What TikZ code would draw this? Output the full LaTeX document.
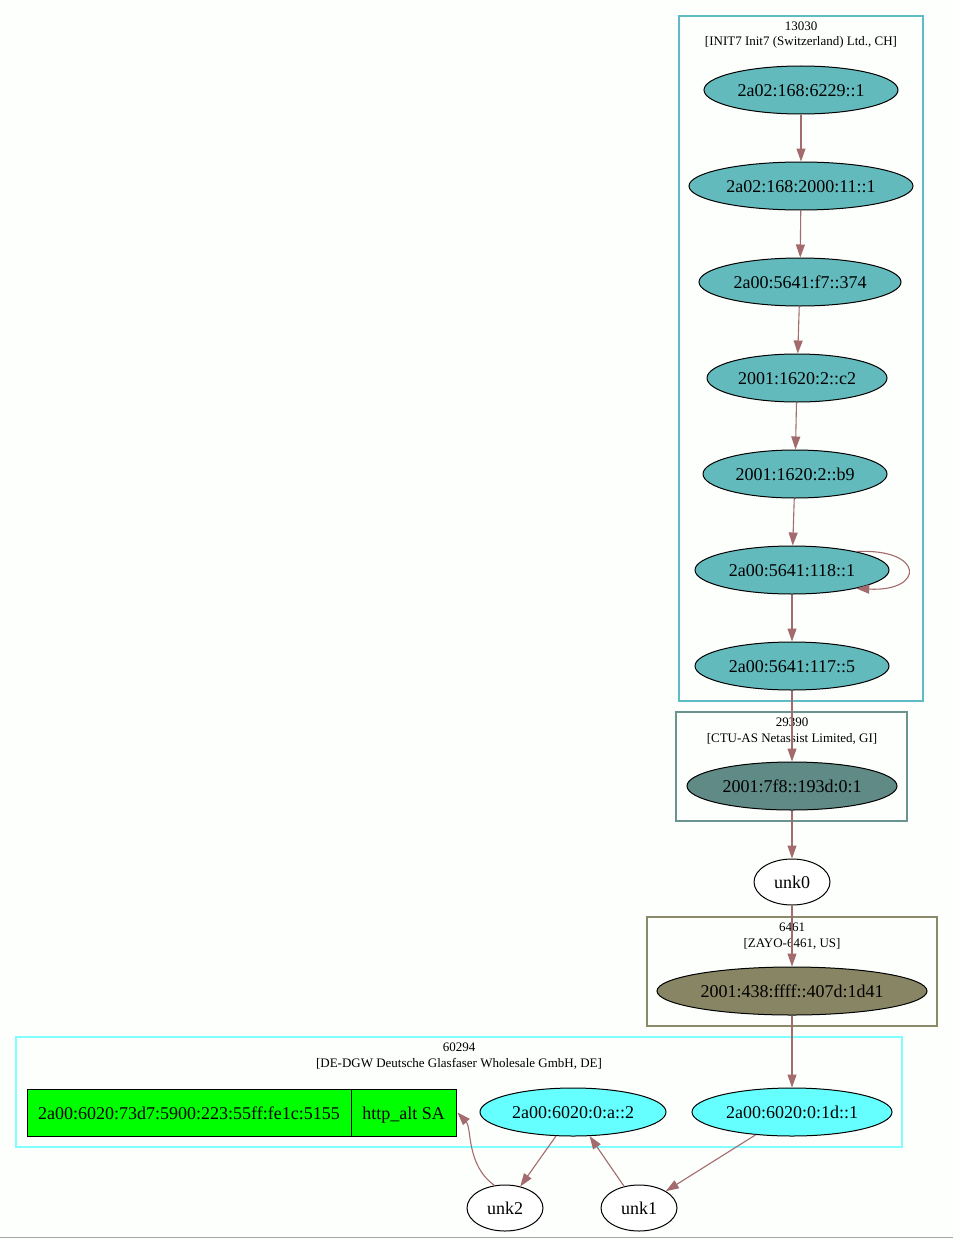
\documentclass[tikz,border=0pt]{standalone}
\usepackage{fontspec}
\setmainfont{Liberation Serif}
\usetikzlibrary{shapes.geometric,arrows.meta}
\definecolor{bgc}{HTML}{FCFFFB}
\definecolor{tealf}{HTML}{63BABC}
\definecolor{tealb}{HTML}{5FBCC4}
\definecolor{ctuf}{HTML}{5F8A85}
\definecolor{ctub}{HTML}{6A9490}
\definecolor{zayf}{HTML}{878563}
\definecolor{zayb}{HTML}{8A8A6A}
\definecolor{cyanf}{HTML}{66FFFF}
\definecolor{cyanb}{HTML}{80FFFF}
\definecolor{edgec}{HTML}{A36B6D}
\definecolor{recg}{HTML}{00FF00}
\tikzset{
  ell/.style={ellipse, draw=black, line width=1pt, inner sep=0pt, minimum height=48pt,
    font=\fontsize{18}{21}\selectfont, text height=14pt, text depth=1pt},
  rec/.style={rectangle, draw=black, line width=1pt, fill=recg, inner sep=0pt, minimum height=47pt,
    font=\fontsize{18}{21}\selectfont, text height=14pt, text depth=1pt},
  clus/.style={line width=1.1pt},
  clabel/.style={align=center, inner sep=0pt, font=\fontsize{13}{15.5}\selectfont},
  edge/.style={draw=edgec, line width=1.1pt, -{Triangle[length=13pt,width=9pt]}}
}
\begin{document}
\begin{tikzpicture}[x=1pt,y=-1pt]
\useasboundingbox (0,0) rectangle (953,1239);
\fill[bgc] (0,0) rectangle (953,1239);
\draw[gray!70, line width=1.5pt] (0,1237.5) -- (953,1237.5);
% clusters
\draw[clus, tealb] (679,16) rectangle (923,701);
\node[clabel] (c1) at (801,35) {13030\\{}[INIT7 Init7 (Switzerland) Ltd., CH]};
\draw[clus, ctub] (676,712) rectangle (907,821);
\node[clabel] (c2) at (792,731) {29390\\{}[CTU-AS Netassist Limited, GI]};
\draw[clus, zayb] (647,917) rectangle (937,1026);
\node[clabel] (c3) at (792,936) {6461\\{}[ZAYO-6461, US]};
\draw[clus, cyanb] (16,1037) rectangle (902,1147);
\node[clabel] (c4) at (459,1056) {60294\\{}[DE-DGW Deutsche Glasfaser Wholesale GmbH, DE]};
% nodes
\node[ell, fill=tealf, minimum width=194pt] (n1) at (801,90) {2a02:168:6229::1};
\node[ell, fill=tealf, minimum width=224pt] (n2) at (801,186) {2a02:168:2000:11::1};
\node[ell, fill=tealf, minimum width=202pt] (n3) at (800,282) {2a00:5641:f7::374};
\node[ell, fill=tealf, minimum width=180pt] (n4) at (797,378) {2001:1620:2::c2};
\node[ell, fill=tealf, minimum width=184pt] (n5) at (795,474) {2001:1620:2::b9};
\node[ell, fill=tealf, minimum width=194pt] (n6) at (792,570) {2a00:5641:118::1};
\node[ell, fill=tealf, minimum width=194pt] (n7) at (792,666) {2a00:5641:117::5};
\node[ell, fill=ctuf, minimum width=210pt] (n8) at (792,786) {2001:7f8::193d:0:1};
\node[ell, fill=white, minimum width=76pt, minimum height=46pt] (u0) at (792,882) {unk0};
\node[ell, fill=zayf, minimum width=270pt] (n9) at (792,991) {2001:438:ffff::407d:1d41};
\node[ell, fill=cyanf, minimum width=200pt] (n11) at (792,1112) {2a00:6020:0:1d::1};
\node[ell, fill=cyanf, minimum width=186pt] (n10) at (573,1112) {2a00:6020:0:a::2};
\node[rec, minimum width=324pt] (r1) at (189,1112.5) {2a00:6020:73d7:5900:223:55ff:fe1c:5155};
\node[rec, minimum width=105pt] (r2) at (403.5,1112.5) {http\_alt SA};
\node[ell, fill=white, minimum width=76pt, minimum height=46pt] (u2) at (505,1208) {unk2};
\node[ell, fill=white, minimum width=76pt, minimum height=46pt] (u1) at (639,1208) {unk1};
% edges
\draw[edge] (n1) -- (n2);
\draw[edge] (n2) -- (n3);
\draw[edge] (n3) -- (n4);
\draw[edge] (n4) -- (n5);
\draw[edge] (n5) -- (n6);
\draw[edge] (n6.16) .. controls (925,548) and (925,592) .. (n6.-16);
\draw[edge] (n6) -- (n7);
\draw[edge] (n7) -- (n8);
\draw[edge] (n8) -- (u0);
\draw[edge] (u0) -- (n9);
\draw[edge] (n9) -- (n11);
\draw[edge] (n11) -- (u1);
\draw[edge] (u1) -- (n10);
\draw[edge] (n10) -- (u2);
\draw[edge] (u2.115) .. controls (466,1165) and (472,1128) .. ([xshift=1pt]r2.east);
\end{tikzpicture}
\end{document}
